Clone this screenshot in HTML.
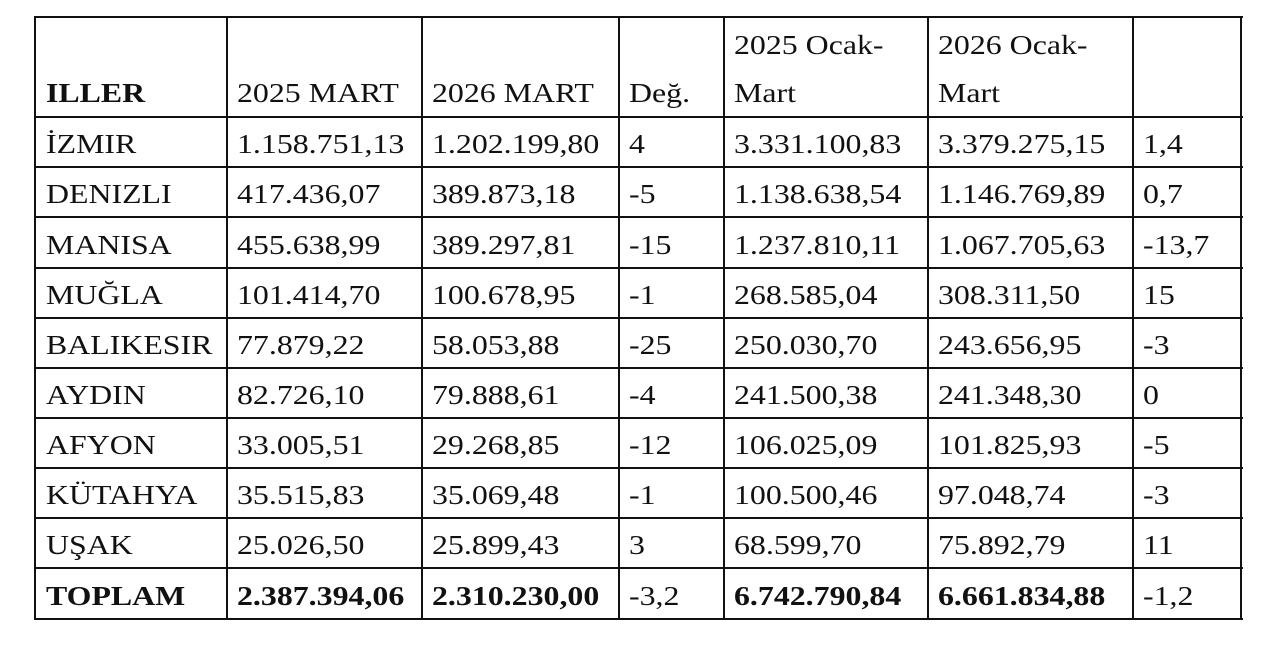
<!DOCTYPE html>
<html><head><meta charset="utf-8"><style>
html,body{margin:0;padding:0;background:#fff;width:1280px;height:649px;overflow:hidden}
.t{position:absolute;font-family:"Liberation Serif",serif;font-size:27px;color:#111;white-space:nowrap;line-height:1;transform:scaleX(1.18);transform-origin:0 0}
.h{position:absolute;background:#111}
b{font-weight:bold}
</style></head><body>
<div id="c"></div>
<script>
const c=document.getElementById('c');
const cols=[35,227,422,619,724,928,1133,1241];
const rows=[17,117,167,217,268,318,368,418,468,518,568,619];
function line(x,y,w,h){const d=document.createElement('div');d.className='h';d.style.cssText=`left:${x}px;top:${y}px;width:${w}px;height:${h}px`;c.appendChild(d);}
rows.forEach((y,i)=>line(34,y-1,1209,2));
cols.forEach((x,i)=>line(x-1,16,2,604));
function txt(x,base,s,bold){const d=document.createElement('div');d.className='t';d.style.left=x+'px';d.style.top=(base-22)+'px';d.innerHTML=bold?'<b>'+s+'</b>':s;c.appendChild(d);}
const hdr=['ILLER','2025 MART','2026 MART','Değ.','Mart','Mart',''];
hdr.forEach((s,i)=>txt(cols[i]+(i==0?11:10),102,s,i==0));
txt(cols[4]+10,54,'2025 Ocak-');txt(cols[5]+10,54,'2026 Ocak-');
const data=[
['İZMIR','1.158.751,13','1.202.199,80','4','3.331.100,83','3.379.275,15','1,4'],
['DENIZLI','417.436,07','389.873,18','-5','1.138.638,54','1.146.769,89','0,7'],
['MANISA','455.638,99','389.297,81','-15','1.237.810,11','1.067.705,63','-13,7'],
['MUĞLA','101.414,70','100.678,95','-1','268.585,04','308.311,50','15'],
['BALIKESIR','77.879,22','58.053,88','-25','250.030,70','243.656,95','-3'],
['AYDIN','82.726,10','79.888,61','-4','241.500,38','241.348,30','0'],
['AFYON','33.005,51','29.268,85','-12','106.025,09','101.825,93','-5'],
['KÜTAHYA','35.515,83','35.069,48','-1','100.500,46','97.048,74','-3'],
['UŞAK','25.026,50','25.899,43','3','68.599,70','75.892,79','11'],
['TOPLAM','2.387.394,06','2.310.230,00','-3,2','6.742.790,84','6.661.834,88','-1,2']];
data.forEach((r,j)=>{const base=rows[j+2]-14;r.forEach((s,i)=>{const bold=j==9&&[0,1,2,4,5].includes(i);txt(cols[i]+(i==0?11:10),base,s,bold);});});
</script>
</body></html>
